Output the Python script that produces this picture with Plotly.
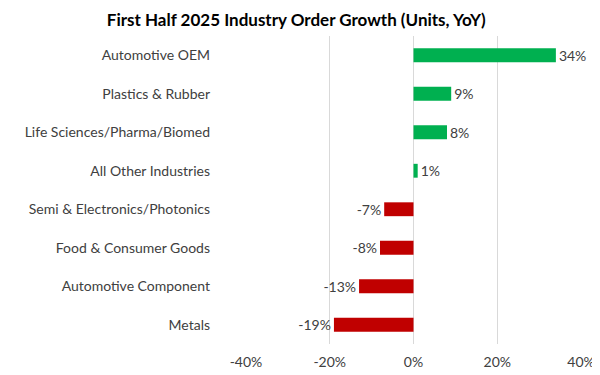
import plotly.graph_objects as go

categories = ["Automotive OEM", "Plastics & Rubber", "Life Sciences/Pharma/Biomed",
              "All Other Industries", "Semi & Electronics/Photonics",
              "Food & Consumer Goods", "Automotive Component", "Metals"]
growth = [0.34, 0.09, 0.08, 0.01, -0.07, -0.08, -0.13, -0.19]
tick_vals = [-0.4, -0.2, 0.0, 0.2, 0.4]
tick_text = ["-40%", "-20%", "0%", "20%", "40%"]

colors = ["#00B050" if v >= 0 else "#C00000" for v in growth]
labels = [f"{round(v*100):d}%" for v in growth]

font_family = "Lato, 'Open Sans', sans-serif"

fig = go.Figure(go.Bar(
    y=categories, x=growth, orientation="h",
    marker=dict(color=colors, line=dict(width=0)),
    width=0.36,
    text=labels, textposition="outside", cliponaxis=False, constraintext="none",
    textfont=dict(size=14, color="#404040", family=font_family),
))

fig.update_layout(
    width=592, height=367,
    paper_bgcolor="white", plot_bgcolor="white",
    margin=dict(l=238, r=19, t=28, b=31, autoexpand=False),
    title=dict(text="<b>First Half 2025 Industry Order Growth (Units, YoY)</b>",
               x=0.487, xanchor="center", y=0.967, yanchor="middle",
               font=dict(size=17, color="#000000", family=font_family)),
    font=dict(family=font_family, size=14, color="#404040"),
    showlegend=False,
)
fig.update_xaxes(range=[-0.4, 0.4], tickvals=tick_vals, ticktext=tick_text,
                 showgrid=True, gridcolor="#d9d9d9", gridwidth=1,
                 zeroline=True, zerolinecolor="#d9d9d9", zerolinewidth=1,
                 showline=False, ticks="", automargin=False,
                 ticklabeloverflow="allow", ticklabelstandoff=8,
                 tickfont=dict(size=14, color="#404040"))
fig.update_yaxes(categoryorder="array", categoryarray=categories, autorange="reversed",
                 showgrid=False, showline=False, ticks="", ticklabelstandoff=35,
                 automargin=False, tickfont=dict(size=14, color="#404040"))

fig.write_html("out.html")
